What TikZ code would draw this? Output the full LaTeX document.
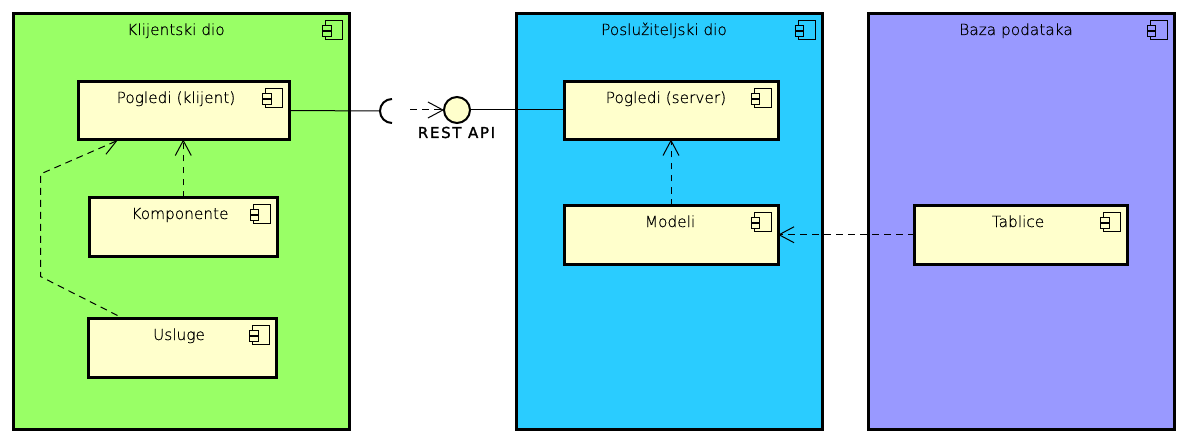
\documentclass[tikz,border=0pt]{standalone}
\usepackage{fontspec}
\setmainfont{DejaVu Sans}
\newfontfamily\thinfont[FakeBold=0.5]{DejaVu Sans ExtraLight}
\newfontfamily\restfont[FakeBold=1.4,LetterSpace=11]{DejaVu Sans}
\usetikzlibrary{arrows.meta,calc}
\definecolor{cgreen}{HTML}{99FF66}
\definecolor{cblue}{HTML}{2ACCFF}
\definecolor{cpurple}{HTML}{9999FF}
\definecolor{cyel}{HTML}{FFFFCC}
\tikzset{
  boxbase/.style={draw=black,line width=2.25pt,inner sep=0pt,outer sep=0pt},
  lbl/.style={anchor=base,inner sep=0pt,font=\thinfont\fontsize{11.5}{13}\selectfont,text=black},
  iconline/.style={draw=black,line width=0.7pt},
  dep/.style={line width=0.75pt,dash pattern=on 5.2pt off 3.8pt},
  vtip/.style={-{Straight Barb[length=11.25pt,width=12pt,line width=0.75pt]}},
  wire/.style={line width=0.75pt}
}
\newcommand{\compbox}[6]{%
  \node[boxbase,fill=#6,minimum width={(#4-#2)*0.75pt},minimum height={(#5-#3)*0.75pt}] (#1) at ({(#2+#4)/2},{(#3+#5)/2}) {};
  \begin{scope}[shift={(#1.north east)}]
    \filldraw[iconline,fill=#6] (-24,7) rectangle (-7,26);
    \filldraw[iconline,fill=#6] (-27,12) rectangle (-18.5,16.5);
    \filldraw[iconline,fill=#6] (-27,18) rectangle (-18.5,22.5);
  \end{scope}}
\begin{document}
\begin{tikzpicture}[x=0.75pt,y=-0.75pt]
\useasboundingbox (0,0) rectangle (1188,442);
% containers
\compbox{klijent}{13.5}{13.5}{349.5}{429.5}{cgreen}
\compbox{server}{516.5}{13.5}{822}{429.5}{cblue}
\compbox{baza}{868.5}{13.5}{1174}{429.5}{cpurple}
% components
\compbox{pk}{78.5}{81.5}{289.5}{139.5}{cyel}
\compbox{komp}{89.5}{197.5}{277}{256}{cyel}
\compbox{usl}{88.5}{318.5}{276.5}{377}{cyel}
\compbox{ps}{564}{81.5}{778}{139.5}{cyel}
\compbox{mod}{564}{205.5}{778}{264}{cyel}
\compbox{tab}{914.5}{205.5}{1127.5}{264}{cyel}
% labels
\node[lbl] (lk) at (176,35) {Klijentski dio};
\node[lbl] (ls) at (664,35) {Poslužiteljski dio};
\node[lbl] (lb) at (1016,35) {Baza podataka};
\node[lbl] (lpk) at (176,103) {Pogledi (klijent)};
\node[lbl] (lko) at (180,219) {Komponente};
\node[lbl] (lus) at (179,340) {Usluge};
\node[lbl] (lps) at (666,103) {Pogledi (server)};
\node[lbl] (lmo) at (670,227) {Modeli};
\node[lbl] (lta) at (1018,227) {Tablice};
% interface
\node[circle,draw=black,line width=1.5pt,fill=cyel,minimum size=19.5pt,inner sep=0pt,outer sep=0pt] (rest) at (457,110) {};
\node[lbl,font=\restfont\fontsize{11.3}{13}\selectfont] (lrest) at (456.5,138) {REST API};
\coordinate (sock) at (380,111);
\coordinate (req) at (410,110);
% connectors
\draw[wire] (pk.east) -- (sock);
\draw[line width=1.5pt] (392,99) arc[start angle=-90,end angle=-270,radius=12];
\draw[dep,vtip] (req) -- (rest.west);
\draw[wire] (rest.east) -- (rest.east -| ps.west);
\draw[dep,vtip] (komp.north) -- (komp.north |- pk.south);
\draw[dep,vtip] (mod.north) -- (mod.north |- ps.south);
\draw[dep,vtip] (tab.west) -- (mod.east);
\coordinate (c1) at (40.5,276.5);
\coordinate (c2) at (40.5,174);
\draw[dep,vtip] ($(usl.north west)+(29,-3)$) -- (c1) -- (c2) -- ($(pk.south west)+(39,1)$);
\end{tikzpicture}
\end{document}
